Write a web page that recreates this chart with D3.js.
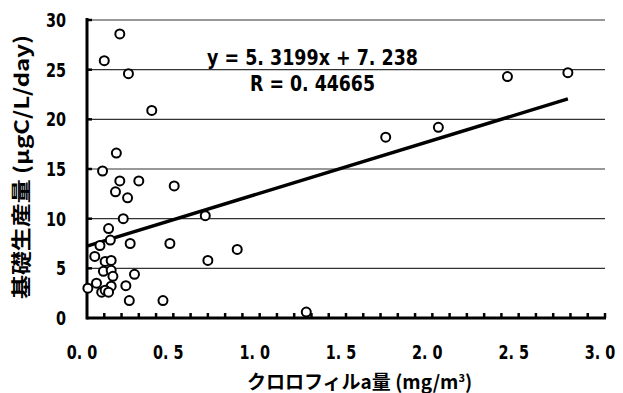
<!DOCTYPE html>
<html><head><meta charset="utf-8">
<script src="https://cdn.jsdelivr.net/npm/d3@7"></script>
<style>
body{margin:0;background:#fff}
.num{font-family:"DejaVu Sans","Liberation Sans",sans-serif;font-weight:bold;fill:#000}
.lab{font-family:"Noto Sans CJK JP","Noto Sans",sans-serif;font-weight:bold;fill:#000}
</style>
</head><body>
<svg id="chart" width="623" height="393"></svg>
<script>
// Chlorophyll a (mg/m3) and primary production (µgC/L/day) per sample
const chlA = [0.19, 0.10, 0.24, 0.375, 0.17, 0.09, 0.19, 0.30, 0.505, 0.165, 0.235, 0.685, 0.21, 0.125, 0.135, 0.075, 0.25, 0.48, 0.87, 0.045, 0.70, 0.105, 0.14, 0.095, 0.14, 0.15, 0.275, 0.055, 0.005, 0.14, 0.225, 0.085, 0.105, 0.125, 0.245, 0.44, 1.27, 1.73, 2.035, 2.435, 2.785];
const production = [28.6, 25.9, 24.6, 20.9, 16.6, 14.8, 13.8, 13.8, 13.3, 12.7, 12.1, 10.3, 10.0, 9.0, 7.85, 7.3, 7.5, 7.5, 6.9, 6.2, 5.8, 5.7, 5.8, 4.7, 4.8, 4.2, 4.4, 3.5, 3.0, 3.2, 3.25, 2.6, 2.8, 2.6, 1.75, 1.75, 0.6, 18.2, 19.2, 24.3, 24.7];
const xTicks = [0, 0.5, 1.0, 1.5, 2.0, 2.5, 3.0];
const yTicks = [0, 5, 10, 15, 20, 25, 30];
const slope = 5.3199, intercept = 7.238, rValue = 0.44665;

const svg = d3.select("#chart");
const x = d3.scaleLinear().domain([0, 3]).range([87, 605]);
const y = d3.scaleLinear().domain([0, 30]).range([318, 20]);
const spaced = v => String(v).replace(".", ". ");
const narrow = 0.72; // horizontal squeeze for the numeric labels

// horizontal grid lines
svg.append("g").selectAll("line").data(yTicks.filter(d => d > 0)).join("line")
  .attr("x1", x(0)).attr("x2", x(3)).attr("y1", d => y(d)).attr("y2", d => y(d))
  .attr("stroke", "#333").attr("stroke-width", 1.2);

// axis lines
svg.append("line").attr("x1", x(0)).attr("x2", x(0)).attr("y1", y(30) - 2).attr("y2", y(0) + 1.5)
  .attr("stroke", "#000").attr("stroke-width", 3);
svg.append("line").attr("x1", x(0)).attr("x2", x(3) + 1).attr("y1", y(0)).attr("y2", y(0))
  .attr("stroke", "#000").attr("stroke-width", 3);

// inward ticks
const minorX = d3.range(1, 31).map(i => i / 10);
svg.append("g").selectAll("line").data(minorX).join("line")
  .attr("x1", d => x(d)).attr("x2", d => x(d)).attr("y1", y(0)).attr("y2", y(0) - 5)
  .attr("stroke", "#000").attr("stroke-width", 2.5);
svg.append("g").selectAll("line").data(yTicks.filter(d => d > 0)).join("line")
  .attr("x1", x(0)).attr("x2", x(0) + 5).attr("y1", d => y(d)).attr("y2", d => y(d))
  .attr("stroke", "#000").attr("stroke-width", 2.5);

// tick labels
svg.append("g").selectAll("text").data(xTicks).join("text").attr("class", "num")
  .attr("transform", d => `translate(${x(d) - 5},359) scale(${narrow},1)`)
  .attr("text-anchor", "middle").style("font-size", "20px").attr("xml:space", "preserve")
  .text(d => spaced(d3.format(".1f")(d)));
svg.append("g").selectAll("text").data(yTicks).join("text").attr("class", "num")
  .attr("transform", d => `translate(66,${y(d) + 7}) scale(${narrow},1)`)
  .attr("text-anchor", "end").style("font-size", "20px")
  .text(d => d);

// regression line over the sampled range
const ext = d3.extent(chlA);
svg.append("line")
  .attr("x1", x(ext[0])).attr("y1", y(slope * ext[0] + intercept))
  .attr("x2", x(ext[1])).attr("y2", y(slope * ext[1] + intercept))
  .attr("stroke", "#000").attr("stroke-width", 3.4);

// samples
svg.append("g").selectAll("circle").data(chlA).join("circle")
  .attr("cx", d => x(d)).attr("cy", (d, i) => y(production[i])).attr("r", 4.5)
  .attr("fill", "#fff").attr("stroke", "#000").attr("stroke-width", 2);

// fitted equation and correlation
svg.append("text").attr("class", "num").attr("x", 207).attr("y", 65)
  .style("font-size", "21px").attr("xml:space", "preserve")
  .attr("textLength", 211).attr("lengthAdjust", "spacingAndGlyphs")
  .text(`y = ${spaced(slope)}x + ${spaced(intercept)}`);
svg.append("text").attr("class", "num").attr("x", 250).attr("y", 91)
  .style("font-size", "21px").attr("xml:space", "preserve")
  .attr("textLength", 125).attr("lengthAdjust", "spacingAndGlyphs")
  .text(`R = ${spaced(rValue)}`);

// axis titles
svg.append("text").attr("class", "lab").attr("x", 247).attr("y", 389)
  .style("font-size", "19px")
  .html('クロロフィルa量 (mg/m<tspan dy="-7" style="font-size:11px">3</tspan><tspan dy="7">)</tspan>');
svg.append("text").attr("class", "lab").attr("transform", "translate(29,167) rotate(-90)")
  .attr("text-anchor", "middle").style("font-size", "20px")
  .attr("textLength", 264).attr("lengthAdjust", "spacingAndGlyphs")
  .text("基礎生産量 (μgC/L/day)");
</script>
</body></html>
